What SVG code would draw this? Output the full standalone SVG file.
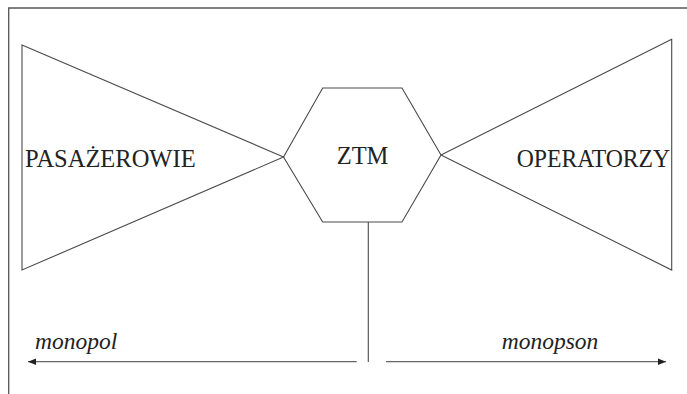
<svg xmlns="http://www.w3.org/2000/svg" width="687" height="394" viewBox="0 0 687 394">
<style>
.ln{fill:none;stroke:#4a4a4a;stroke-width:1.1}
.fr{fill:none;stroke:#555;stroke-width:1.3}
.lb{font-family:'Liberation Serif','Times New Roman',Times,serif;font-size:24.5px;fill:#222}
.it{font-family:'Liberation Serif','Times New Roman',Times,serif;font-style:italic;font-size:23.5px;fill:#222}
.ar{fill:none;stroke:#666;stroke-width:1.3}
</style>
<defs>
<marker id="ah" viewBox="0 0 10 10" refX="10" refY="5" markerWidth="8" markerHeight="8" markerUnits="userSpaceOnUse" orient="auto">
<path d="M0,1 L10,5 L0,9 Z" fill="#222"/>
</marker>
</defs>
<rect width="687" height="394" fill="#fff"/>
<g id="frame">
<path class="fr" d="M8.7,394 V8 H687"/>
</g>
<g id="pasazerowie">
<path class="ln" d="M22,45 L283.5,157 L22,270 Z"/>
<text class="lb" x="25" y="167.3">PASAŻEROWIE</text>
</g>
<g id="ztm">
<path class="ln" d="M322.7,88 H402 L441,155 L402,222 H322.7 L283.5,157 Z"/>
<text class="lb" x="336.7" y="164">ZTM</text>
</g>
<g id="operatorzy">
<path class="ln" d="M671.7,39.3 L441,155 L671.7,270 Z"/>
<text class="lb" x="516.7" y="167.3" textLength="153.5" lengthAdjust="spacingAndGlyphs">OPERATORZY</text>
</g>
<g id="connectors">
<line class="ln" x1="368.3" y1="222" x2="368.3" y2="362"/>
<line class="ar" x1="356.7" y1="361.7" x2="28" y2="361.7" marker-end="url(#ah)"/>
<line class="ar" x1="386" y1="361.7" x2="666" y2="361.7" marker-end="url(#ah)"/>
</g>
<g id="labels">
<text class="it" x="35" y="349">monopol</text>
<text class="it" x="501.7" y="349">monopson</text>
</g>
</svg>
